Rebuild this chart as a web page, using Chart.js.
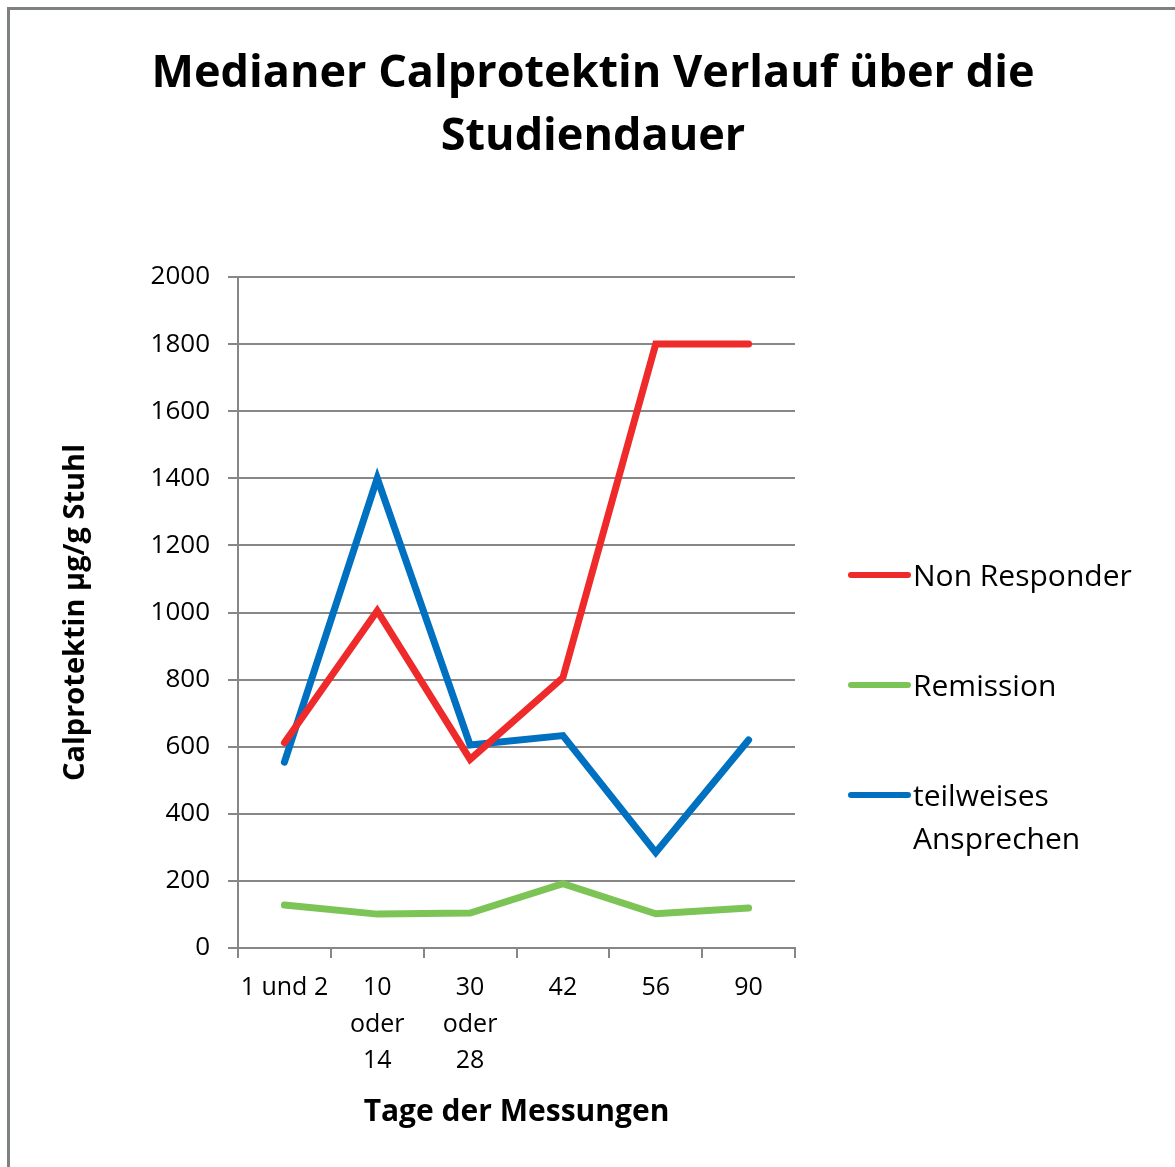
<!DOCTYPE html>
<html>
<head>
<meta charset="utf-8">
<script src="https://cdn.jsdelivr.net/npm/chart.js@4.4.0/dist/chart.umd.min.js"></script>
<style>
  html, body { margin: 0; padding: 0; background: #fff; }
  #c { display: block; }
</style>
</head>
<body>
<canvas id="c" width="1175" height="1167"></canvas>
<script>
// chart data
const titleLines = ['Medianer Calprotektin Verlauf über die', 'Studiendauer'];
const days = [['1 und 2'], ['10', 'oder', '14'], ['30', 'oder', '28'], ['42'], ['56'], ['90']];
const nonResponder = [612, 1005, 562, 806, 1800, 1800];
const remission = [128, 101, 104, 192, 102, 119];
const teilweise = [554, 1400, 605, 633, 285, 620];
const seriesNames = ['Non Responder', 'Remission', 'teilweises Ansprechen'];
const seriesColors = ['#ee2a2a', '#7dc457', '#0070c0'];

const GRID = '#878787';
const FONT = '"Open Sans", "DejaVu Sans", sans-serif';
const PAD_L = 58, PAD_B = 37;

// title, legend and the frame line are painted by hand
const decor = {
  id: 'decor',
  beforeDraw(chart){
    const ctx = chart.ctx;
    ctx.save();
    ctx.strokeStyle = '#7d8180';
    ctx.lineWidth = 3;
    ctx.beginPath();
    ctx.moveTo(8.5, chart.height);
    ctx.lineTo(8.5, 8.5);
    ctx.lineTo(chart.width, 8.5);
    ctx.stroke();
    ctx.restore();
  },
  afterDraw(chart){
    const ctx = chart.ctx;
    ctx.save();
    ctx.fillStyle = '#000';
    ctx.textAlign = 'center';
    ctx.textBaseline = 'middle';
    ctx.font = 'bold 45px ' + FONT;
    titleLines.forEach((t, i) => ctx.fillText(t, 593, 74 + i * 63));

    // legend
    ctx.font = '30px ' + FONT;
    ctx.textAlign = 'left';
    const maxW = chart.width - 913 - 4;
    chart.data.datasets.forEach((ds, i) => {
      const y = 577 + i * 110;
      ctx.strokeStyle = ds.borderColor;
      ctx.lineWidth = 6;
      ctx.lineCap = 'round';
      ctx.beginPath();
      ctx.moveTo(851, y - 2);
      ctx.lineTo(908, y - 2);
      ctx.stroke();
      // simple word wrap
      const words = ds.label.split(' ');
      const lines = [];
      let cur = '';
      words.forEach(w => {
        const test = cur ? cur + ' ' + w : w;
        if (cur && ctx.measureText(test).width > maxW) { lines.push(cur); cur = w; }
        else cur = test;
      });
      lines.push(cur);
      lines.forEach((l, j) => ctx.fillText(l, 913, y + j * 43));
    });
    ctx.restore();
  }
};

const mkSet = (label, data, color) => ({
  label, data,
  borderColor: color,
  backgroundColor: color,
  borderWidth: 7,
  pointRadius: 0,
  pointHoverRadius: 0,
  tension: 0,
  borderJoinStyle: 'miter',
  borderCapStyle: 'round',
  fill: false
});

new Chart(document.getElementById('c'), {
  type: 'line',
  data: {
    labels: days,
    datasets: [
      mkSet(seriesNames[0], nonResponder, seriesColors[0]),
      mkSet(seriesNames[1], remission, seriesColors[1]),
      mkSet(seriesNames[2], teilweise, seriesColors[2])
    ]
  },
  options: {
    responsive: false,
    animation: false,
    layout: { padding: { top: 277, left: PAD_L, right: 380, bottom: PAD_B } },
    plugins: { legend: { display: false }, title: { display: false }, tooltip: { enabled: false } },
    scales: {
      x: {
        offset: true,
        grid: { offset: true, drawOnChartArea: false, drawTicks: true, tickLength: 10, color: GRID, lineWidth: 2 },
        border: { display: true, color: GRID, width: 2 },
        ticks: { color: '#000', padding: 12, font: { family: FONT, size: 25, lineHeight: 1.45 }, maxRotation: 0, autoSkip: false },
        title: { display: true, text: 'Tage der Messungen', color: '#000', padding: 0, font: { family: FONT, size: 30, weight: 'bold', lineHeight: 1.2 } },
        afterFit(s){ s.height = 1167 - PAD_B - 948; }
      },
      y: {
        min: 0, max: 2000,
        ticks: { stepSize: 200, color: '#000', padding: 18, font: { family: FONT, size: 26 }, callback: v => String(v) },
        grid: { color: GRID, lineWidth: 2, tickLength: 10 },
        border: { display: true, color: GRID, width: 2 },
        title: { display: true, text: 'Calprotektin µg/g Stuhl', color: '#000', padding: 0, font: { family: FONT, size: 29, weight: 'bold', lineHeight: 1.2 } },
        afterFit(s){ s.width = 238 - PAD_L; }
      }
    }
  },
  plugins: [decor]
});
</script>
</body>
</html>
